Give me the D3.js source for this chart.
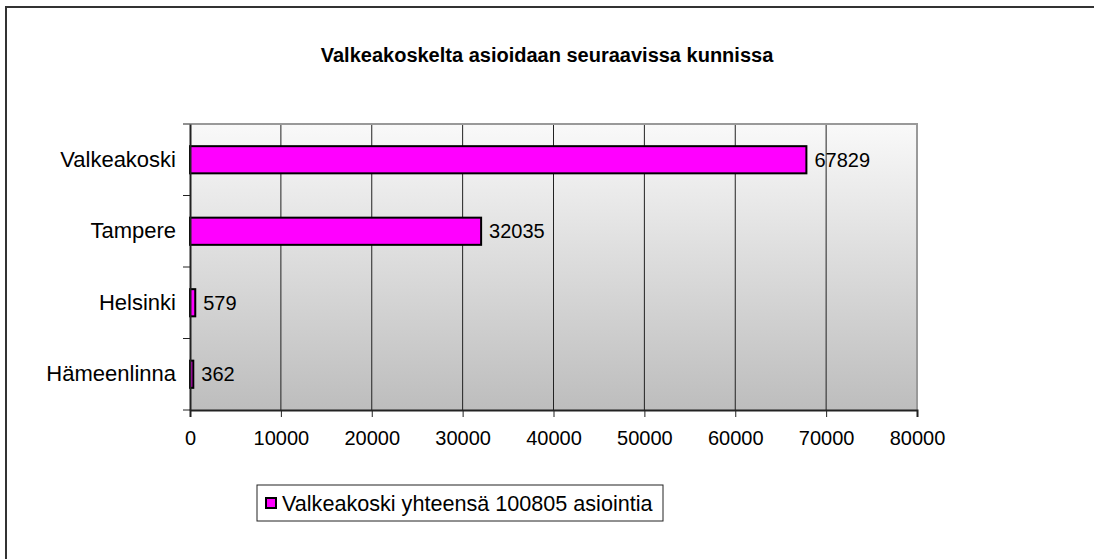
<!DOCTYPE html>
<html>
<head>
<meta charset="utf-8">
<script src="https://cdn.jsdelivr.net/npm/d3@7"></script>
<style>
  body { margin: 0; background: #fff; overflow: hidden; }
  text { font-family: "Liberation Sans", Arial, sans-serif; fill: #000; }
</style>
</head>
<body>
<div id="vis"></div>
<script>
const title = "Valkeakoskelta asioidaan seuraavissa kunnissa";
const categories = ["Valkeakoski", "Tampere", "Helsinki", "Hämeenlinna"];
const values = [67829, 32035, 579, 362];
const xTicks = [0, 10000, 20000, 30000, 40000, 50000, 60000, 70000, 80000];
const legendLabel = "Valkeakoski yhteensä 100805 asiointia";

const W = 1094, H = 559;
const plot = { left: 190, top: 124, right: 917, bottom: 410 };

const svg = d3.select("#vis").append("svg")
  .attr("width", W).attr("height", H).style("display", "block");

// gradient for plot background
const grad = svg.append("defs").append("linearGradient")
  .attr("id", "bg").attr("x1", 0).attr("y1", 0).attr("x2", 0).attr("y2", 1);
grad.append("stop").attr("offset", "0%").attr("stop-color", "#f9f9f9");
grad.append("stop").attr("offset", "100%").attr("stop-color", "#bdbdbd");

// outer frame (right and bottom edges fall outside the picture)
svg.append("rect")
  .attr("x", 6).attr("y", 7).attr("width", W + 40).attr("height", H + 40)
  .attr("fill", "none").attr("stroke", "#333").attr("stroke-width", 2);

svg.append("text")
  .attr("x", 547).attr("y", 62)
  .attr("text-anchor", "middle")
  .style("font-size", "20px").style("font-weight", "bold")
  .text(title);

const x = d3.scaleLinear().domain([0, 80000]).range([plot.left, plot.right]);
const y = d3.scaleBand().domain(categories).range([plot.top, plot.bottom]).paddingInner(0.62).paddingOuter(0.31);
const yb = d3.scaleBand().domain(categories).range([plot.top, plot.bottom]);

svg.append("rect")
  .attr("x", plot.left).attr("y", plot.top)
  .attr("width", plot.right - plot.left).attr("height", plot.bottom - plot.top)
  .attr("fill", "url(#bg)");

// gridlines
svg.append("g").selectAll("line")
  .data(xTicks.slice(1, -1))
  .join("line")
  .attr("x1", d => x(d)).attr("x2", d => x(d))
  .attr("y1", plot.top).attr("y2", plot.bottom)
  .attr("stroke", "#222").attr("stroke-width", 1);

// plot border (top & right)
svg.append("path")
  .attr("d", `M${plot.left},${plot.top}H${plot.right}V${plot.bottom}`)
  .attr("fill", "none").attr("stroke", "#999").attr("stroke-width", 2);

// bars
svg.append("g").selectAll("rect")
  .data(categories)
  .join("rect")
  .attr("x", x(0))
  .attr("y", d => y(d))
  .attr("width", (d, i) => x(values[i]) - x(0))
  .attr("height", y.bandwidth())
  .attr("fill", "#ff00ff")
  .attr("stroke", "#000").attr("stroke-width", 2);

// value labels
svg.append("g").selectAll("text")
  .data(categories)
  .join("text")
  .attr("x", (d, i) => x(values[i]) + 8)
  .attr("y", d => y(d) + y.bandwidth() / 2)
  .attr("dy", "0.36em")
  .style("font-size", "20px")
  .text((d, i) => values[i]);

// x axis
const xAxis = svg.append("g")
  .attr("transform", `translate(0,${plot.bottom})`)
  .call(d3.axisBottom(x).tickValues(xTicks).tickSize(7).tickPadding(14).tickFormat(d3.format("d")));
xAxis.select(".domain").attr("stroke", "#222").attr("stroke-width", 2);
xAxis.selectAll(".tick line").attr("stroke", "#222");
xAxis.selectAll("text").style("font-size", "20px");

// y axis
const yAxis = svg.append("g")
  .attr("transform", `translate(${plot.left},0)`)
  .call(d3.axisLeft(yb).tickSize(0).tickPadding(14));
yAxis.select(".domain").attr("stroke", "#222").attr("stroke-width", 2);
yAxis.selectAll("text").style("font-size", "22px");
yAxis.append("g").selectAll("line")
  .data(d3.range(categories.length + 1))
  .join("line")
  .attr("x1", -7).attr("x2", 0)
  .attr("y1", i => plot.top + i * yb.step())
  .attr("y2", i => plot.top + i * yb.step())
  .attr("stroke", "#222");

// legend
const lg = svg.append("g").attr("transform", "translate(257,485)");
lg.append("rect").attr("width", 406).attr("height", 36)
  .attr("fill", "#fff").attr("stroke", "#222").attr("stroke-width", 1);
lg.append("rect").attr("x", 9).attr("y", 13).attr("width", 10).attr("height", 10)
  .attr("fill", "#ff00ff").attr("stroke", "#000").attr("stroke-width", 2);
lg.append("text").attr("x", 25).attr("y", 18).attr("dy", "0.36em")
  .style("font-size", "21.6px").text(legendLabel);
</script>
</body>
</html>
